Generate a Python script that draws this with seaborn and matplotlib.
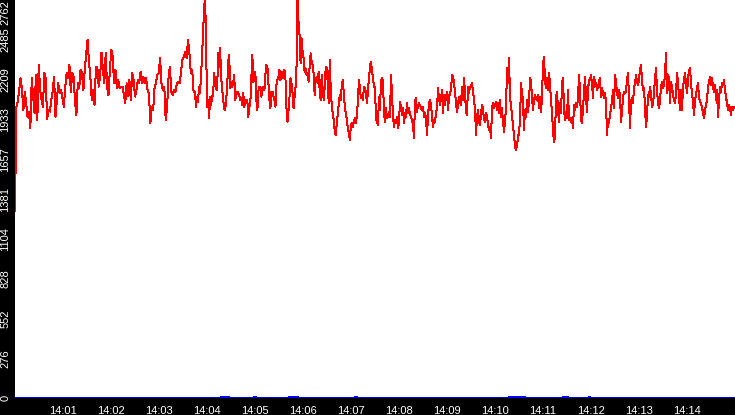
import numpy as np
import pandas as pd
import matplotlib
matplotlib.use('Agg')
import matplotlib.pyplot as plt
import seaborn as sns

# red trace in four blocks (seconds after 14:00:00)
# block 1: 0 - 225 s
rate_block1 = [1300, 2022, 2057, 2138, 2219, 2138, 1999, 2126, 2046, 1953, 1988, 1872, 2219, 2092, 1976,
               2242, 1930, 2312, 2138, 2069, 2022, 2254, 2219, 1935, 1999, 1988, 2069, 2126, 2231, 1953,
               2069, 2184, 2115, 2138, 2080, 2022, 2161, 2254, 2219, 2312, 2126, 2254, 2231, 2057, 1965,
               2184, 2150, 2277, 2254, 2138, 2277, 2392, 2485, 2335, 2231, 2069, 2138, 2034, 2300, 2300,
               2161, 2231, 2397, 2277, 2184, 2392, 2161, 2103, 2277, 2416, 2369, 2184, 2277, 2150, 2207,
               2150, 2161, 2161, 2103, 2046, 2184, 2092, 2207, 2069, 2254, 2207, 2092, 2138, 2207, 2184,
               2265, 2184, 2231, 2184, 2219, 2138, 2115, 1907, 2022, 1999, 2150, 2184, 2242, 2254, 2358,
               2184, 2138, 2161, 1930, 2022, 2219, 2300, 2126, 2103, 2138, 2126, 2184, 2196, 2184, 2265,
               2346, 2369, 2404, 2358, 2485, 2392, 2254, 2277, 2126]
# block 2: 225 - 450 s
rate_block2 = [2126, 2022, 2091, 2057, 2161, 2115, 2242, 2369, 2531, 2693, 2790, 2484, 2022, 2068, 1941,
               2091, 2033, 2091, 2103, 2253, 2195, 2149, 2138, 2392, 2300, 2427, 2218, 2149, 2068, 2010,
               1999, 2068, 2161, 2334, 2380, 2149, 2195, 2161, 2184, 2242, 2068, 2103, 2126, 2115, 2103,
               2068, 2080, 2033, 2115, 2022, 2068, 2045, 2068, 1952, 2022, 2045, 2207, 2380, 2195, 2207,
               2265, 2068, 1999, 2126, 2161, 2149, 2091, 2149, 2161, 2138, 2242, 2311, 2300, 2184, 2068,
               2010, 2126, 2126, 2091, 2068, 2022, 2172, 2207, 2230, 2276, 2207, 2242, 2265, 2218, 2276,
               2207, 2010, 1918, 1999, 2091, 2218, 2184, 2115, 2010, 2091, 2161, 2311, 2790, 2600, 2519,
               2322, 2496, 2403, 2357, 2265, 2288, 2242, 2253, 2195, 2300, 2392, 2334, 2311, 2253, 2103,
               2207, 2230, 2184, 2265, 2126, 2068, 2242, 2138, 2068, 2161, 2300, 2288, 2184, 2045, 2346,
               2138, 2033, 1976, 1930, 1848, 1825, 1906, 1976, 2045, 2103, 2068, 2172, 2207, 2115, 2022,
               1976, 1930, 1872, 1837, 1791, 1895, 1906, 1883, 1918, 1941, 1906, 1964, 2057, 2207, 2149,
               2080, 2103, 2068, 2161, 2149, 2126, 2045, 2138, 2218, 2300, 2334, 2276, 2218, 2161]
# block 3: 450 - 675 s
rate_block3 = [2161, 1929, 1918, 1895, 2091, 1999, 2207, 2218, 2195, 1976, 1918, 2010, 1941, 1952, 1987,
               1952, 2242, 2114, 1952, 1883, 1929, 1906, 1952, 1871, 1918, 2056, 2022, 1964, 2010, 1906,
               1976, 1952, 2045, 1976, 2010, 1964, 1952, 1929, 1895, 1802, 2068, 2080, 1987, 2033, 2045,
               2033, 2010, 1999, 2022, 1952, 1976, 1941, 1825, 1952, 2045, 2068, 2033, 1952, 1883, 1929,
               1918, 1976, 2010, 2149, 2080, 2033, 2080, 2137, 1976, 2103, 2033, 2091, 2126, 1999, 2091,
               2114, 2137, 2242, 2230, 2184, 2126, 2045, 1987, 2033, 2091, 2056, 2033, 2161, 2068, 2218,
               2114, 1987, 1964, 2161, 2114, 2161, 2161, 2184, 2126, 2068, 2010, 1825, 1952, 1999, 1918,
               1895, 1976, 2033, 2010, 1929, 1918, 1976, 1952, 1895, 1860, 1883, 1802, 2010, 2045, 2010,
               2033, 2056, 1999, 2045, 1976, 2068, 1952, 2010, 1918, 1848, 1918, 2010, 2288, 2184, 2357,
               2091, 2022, 1964, 1883, 1825, 1744, 1721, 1756, 1802, 1848, 1918, 2184, 2114, 2068, 1860,
               1999, 1952, 2068, 1987, 2056, 2218, 2195, 2091, 1999, 2068, 2103, 2080, 2068, 2103, 2010,
               2091, 1987, 2091, 2311, 2369, 2207, 2149, 2218, 2137, 2253, 2184, 2056, 1987, 1848, 1779]
# block 4: 675 - 900 s
rate_block4 = [1814, 2080, 2126, 2010, 1918, 2045, 1976, 2184, 2218, 2010, 1929, 1987, 1941, 2137, 1929,
               1941, 1918, 1941, 1871, 2033, 1999, 2045, 2022, 2080, 2242, 2137, 1929, 1906, 2010, 2114,
               2230, 2091, 1987, 2137, 2207, 2207, 2242, 2184, 2080, 2230, 2184, 2184, 2137, 2161, 2195,
               2218, 2091, 2149, 2114, 2080, 2114, 2056, 1825, 1929, 1906, 1976, 1999, 2068, 2137, 2010,
               2242, 2195, 2114, 2080, 2137, 2103, 1918, 1987, 2091, 2126, 2114, 2126, 2207, 2253, 2080,
               1871, 2056, 2080, 2045, 2149, 2184, 2242, 2195, 2172, 2207, 2276, 2311, 2207, 2137, 2149,
               2022, 1883, 1952, 2103, 2091, 2161, 2103, 2022, 2045, 2114, 2218, 2288, 2137, 2045, 2010,
               2068, 2161, 2195, 2149, 2172, 2253, 2392, 2114, 2242, 2218, 2045, 2195, 2161, 2103, 2068,
               2045, 2114, 2253, 2195, 2091, 1999, 2137, 1999, 2161, 2207, 2253, 2184, 2114, 2207, 2276,
               2288, 2184, 2114, 2056, 1964, 2068, 2103, 2149, 2184, 2091, 2056, 2045, 2010, 1987, 1941,
               1999, 2033, 2068, 2161, 2195, 2230, 2172, 2218, 2161, 2126, 2172, 2068, 2137, 1952, 2068,
               2161, 2126, 2184, 2172, 2207, 2137, 2091, 2045, 1999, 2033, 2010, 1964, 2022, 1999, 2022]
block_edges = [0, 225, 450, 675, 900]

# blue trace, sits on the floor with a few small blips
blue_t = [0, 256, 258, 266, 268, 298, 300, 302, 341, 343, 353, 355, 424, 426, 428,
          617, 619, 637, 639, 684, 686, 690, 692, 716, 718, 720, 900]
blue_v = [0, 0, 10, 10, 0, 0, 10, 0, 0, 10, 10, 0, 0, 10, 0,
          0, 10, 10, 0, 0, 10, 10, 0, 0, 10, 0, 0]

ytick_vals = [0, 276.2, 552.4, 828.6, 1104.8, 1381, 1657.2, 1933.4, 2209.6, 2485.8, 2762]
ytick_labels = ['0', '276', '552', '828', '1104', '1381', '1657', '1933', '2209', '2485', '2762']
xtick_labels = ['14:%02d' % m for m in range(1, 15)]

frames = []
blocks = [rate_block1, rate_block2, rate_block3, rate_block4]
for i, b in enumerate(blocks):
    t = np.linspace(block_edges[i], block_edges[i + 1], len(b), endpoint=False)
    frames.append(pd.DataFrame({'t': t, 'rate': b}))
red_df = pd.concat(frames, ignore_index=True)
blue_df = pd.DataFrame({'t': blue_t, 'rate': blue_v})

sns.set_style('white')
plt.rcParams['font.family'] = ['Liberation Sans', 'DejaVu Sans']
fig = plt.figure(figsize=(7.35, 4.15), dpi=100, facecolor='black')
ax = fig.add_axes([15 / 735, 17 / 415, 720 / 735, 398 / 415])
ax.set_facecolor('white')

sns.lineplot(data=blue_df, x='t', y='rate', color='blue', lw=0.72, estimator=None, ax=ax, antialiased=False)
sns.lineplot(data=red_df, x='t', y='rate', color='red', lw=0.72, estimator=None, ax=ax, antialiased=False)

ax.set_xlim(0, 900)
ax.set_ylim(0, 2762)
for s in ax.spines.values():
    s.set_visible(False)

ax.set_xticks([60 * m for m in range(1, 15)])
ax.set_xticklabels(xtick_labels)
ax.set_yticks(ytick_vals)
ax.set_yticklabels(ytick_labels, rotation=90, va='center')
ax.get_yticklabels()[-1].set_va('top')
ax.tick_params(axis='both', colors='white', labelsize=8, width=1, direction='out')
ax.tick_params(axis='x', length=4, pad=1.5)
ax.tick_params(axis='y', length=3, pad=0.5)
ax.set_xlabel('')
ax.set_ylabel('')

fig.savefig('out.png', dpi=100, facecolor='black')
